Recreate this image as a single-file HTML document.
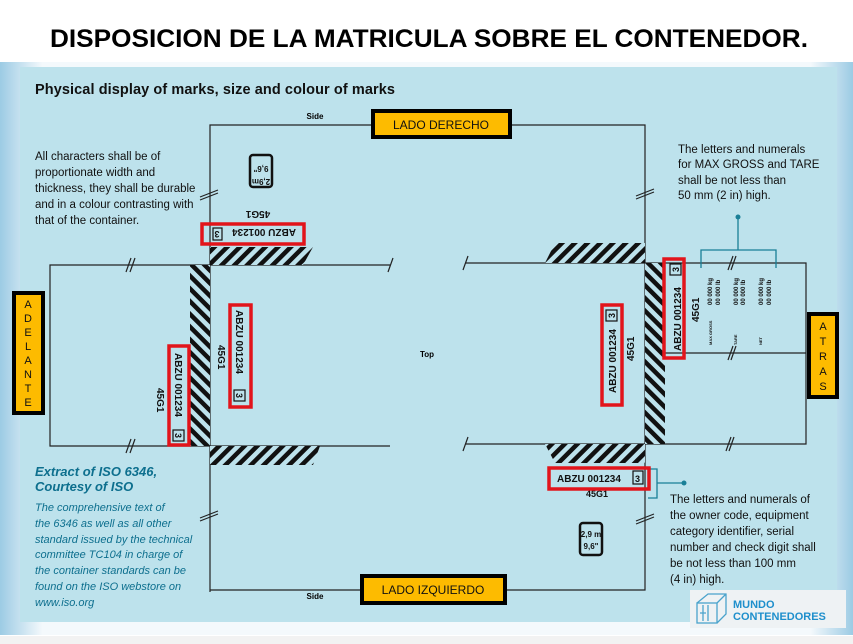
<!DOCTYPE html>
<html><head><meta charset="utf-8"><style>
html,body{margin:0;padding:0;width:853px;height:644px;overflow:hidden;background:#fff}
svg{display:block}
text{font-family:"Liberation Sans",sans-serif}
</style></head><body>
<svg width="853" height="644" viewBox="0 0 853 644" xmlns="http://www.w3.org/2000/svg">
<defs>
<pattern id="h" width="9" height="9" patternUnits="userSpaceOnUse" patternTransform="rotate(45)">
<rect width="9" height="9" fill="#bde2ec"/><rect width="4.5" height="9" fill="#111"/></pattern>
<pattern id="h2" width="9" height="9" patternUnits="userSpaceOnUse" patternTransform="rotate(-45)">
<rect width="9" height="9" fill="#bde2ec"/><rect width="4.5" height="9" fill="#111"/></pattern>
<linearGradient id="bg" x1="0" y1="0" x2="1" y2="0">
<stop offset="0" stop-color="#9ccbe4"/><stop offset="0.05" stop-color="#f4f9fc"/><stop offset="0.95" stop-color="#f4f9fc"/><stop offset="1" stop-color="#9ccbe4"/></linearGradient>
</defs>
<rect x="0" y="60" width="853" height="575" fill="url(#bg)"/>
<rect x="0" y="0" width="853" height="62" fill="#fff"/>
<rect x="0" y="636" width="853" height="8" fill="#f2f2f2"/>
<text x="50" y="47" font-size="25" font-weight="bold" textLength="758" lengthAdjust="spacingAndGlyphs">DISPOSICION DE LA MATRICULA SOBRE EL CONTENEDOR.</text>
<rect x="20" y="67" width="817" height="555" fill="#bde2ec"/>
<text x="35" y="94" font-size="14.5" font-weight="bold" fill="#111" textLength="360">Physical display of marks, size and colour of marks</text>

<g stroke="#222" stroke-width="1.2" fill="none">
<polyline points="210,592 210,125 645,125 645,590 210,590"/>
<polyline points="390,265 50,265 50,446 390,446"/>
<polyline points="465,263 806,263 806,444 465,444"/>
<line x1="645" y1="353" x2="806" y2="353"/>
<path d="M126,272 L131,258 M130,272 L135,258 M126,453 L131,439 M130,453 L135,439 M388,272 L393,258 M463,270 L468,256 M463,451 L468,437 M200,197 L218,190 M200,200 L218,193 M200,518 L218,511 M200,521 L218,514 M636,196 L654,189 M636,199 L654,192 M636,521 L654,514 M636,524 L654,517 M728,270 L733,256 M731,270 L736,256 M728,360 L733,346 M731,360 L736,346 M726,451 L731,437 M729,451 L734,437"/>
</g>
<polygon points="210,265 210,247 313,247 303,265" fill="url(#h)"/>
<rect x="190" y="265" width="20" height="181" fill="url(#h2)"/>
<polygon points="210,446 320,446 313,465 210,465" fill="url(#h)"/>
<polygon points="555,243 645,243 645,263 545,263" fill="url(#h)"/>
<rect x="645" y="263" width="20" height="181" fill="url(#h2)"/>
<polygon points="545,444 645,444 645,463 555,463" fill="url(#h)"/>

<text x="315" y="119" font-size="8" font-weight="bold" text-anchor="middle">Side</text>
<text x="315" y="599" font-size="8" font-weight="bold" text-anchor="middle">Side</text>
<text x="427" y="357" font-size="8" font-weight="bold" text-anchor="middle">Top</text>

<g font-size="11.5" fill="#111">
<text x="35" y="160">All characters shall be of</text>
<text x="35" y="176">proportionate width and</text>
<text x="35" y="192">thickness, they shall be durable</text>
<text x="35" y="208">and in a colour contrasting with</text>
<text x="35" y="224">that of the container.</text>
<text x="678" y="153">The letters and numerals</text>
<text x="678" y="168">for MAX GROSS and TARE</text>
<text x="678" y="184">shall be not less than</text>
<text x="678" y="199">50 mm (2 in) high.</text>
<text x="670" y="503">The letters and numerals of</text>
<text x="670" y="519">the owner code, equipment</text>
<text x="670" y="535">category identifier, serial</text>
<text x="670" y="551">number and check digit shall</text>
<text x="670" y="567">be not less than 100 mm</text>
<text x="670" y="583">(4 in) high.</text>
</g>
<g fill="#0d6f8e" font-style="italic" font-weight="bold">
<text x="35" y="476" font-size="13">Extract of ISO 6346,</text>
<text x="35" y="491" font-size="13">Courtesy of ISO</text>
<g font-size="11" font-weight="normal">
<text x="35" y="511">The comprehensive text of</text>
<text x="35" y="527">the 6346 as well as all other</text>
<text x="35" y="543">standard issued by the technical</text>
<text x="35" y="558">committee TC104 in charge of</text>
<text x="35" y="574">the container standards can be</text>
<text x="35" y="590">found on the ISO webstore on</text>
<text x="35" y="606">www.iso.org</text>
</g></g>

<g stroke="#1a7f97" stroke-width="1.3" fill="none">
<polyline points="701,268 701,250 776,250 776,268"/><line x1="738" y1="250" x2="738" y2="218"/>
<polyline points="648,469 657,469 657,498 648,498"/><line x1="657" y1="483" x2="683" y2="483"/>
</g>
<circle cx="738" cy="217" r="2.5" fill="#1a7f97"/><circle cx="684" cy="483" r="2.5" fill="#1a7f97"/>

<g font-weight="bold" fill="#111">
<text transform="translate(264,229) rotate(180)" font-size="10" text-anchor="middle">ABZU  001234</text>
<rect x="213" y="228" width="9" height="12" fill="none" stroke="#111" stroke-width="1.2"/>
<text transform="translate(217,231) rotate(180)" font-size="9" text-anchor="middle">3</text>
<text transform="translate(258,211) rotate(180)" font-size="10" text-anchor="middle">45G1</text>

<text transform="translate(236,310) rotate(90)" font-size="10">ABZU  001234</text>
<rect x="234" y="390" width="11" height="11" fill="none" stroke="#111" stroke-width="1.2"/>
<text transform="translate(236,393) rotate(90)" font-size="9">3</text>
<text transform="translate(218,345) rotate(90)" font-size="10">45G1</text>

<text transform="translate(175,353) rotate(90)" font-size="10">ABZU  001234</text>
<rect x="173" y="430" width="11" height="11" fill="none" stroke="#111" stroke-width="1.2"/>
<text transform="translate(175,433) rotate(90)" font-size="9">3</text>
<text transform="translate(157,388) rotate(90)" font-size="10">45G1</text>

<text transform="translate(616,393) rotate(-90)" font-size="10">ABZU  001234</text>
<rect x="606" y="310" width="11" height="11" fill="none" stroke="#111" stroke-width="1.2"/>
<text transform="translate(615,318) rotate(-90)" font-size="9">3</text>
<text transform="translate(634,361) rotate(-90)" font-size="10">45G1</text>

<text transform="translate(681,351) rotate(-90)" font-size="10">ABZU  001234</text>
<rect x="670" y="264" width="11" height="11" fill="none" stroke="#111" stroke-width="1.2"/>
<text transform="translate(679,272) rotate(-90)" font-size="9">3</text>
<text transform="translate(699,322) rotate(-90)" font-size="10">45G1</text>

<text x="557" y="482" font-size="10">ABZU  001234</text>
<rect x="633" y="471" width="10" height="13" fill="none" stroke="#111" stroke-width="1.2"/>
<text x="635" y="482" font-size="9">3</text>
<text x="586" y="497" font-size="9">45G1</text>

<g font-size="6">
<text transform="translate(712,305) rotate(-90)">00 000 kg</text>
<text transform="translate(720,305) rotate(-90)">00 000 lb</text>
<text transform="translate(738,305) rotate(-90)">00 000 kg</text>
<text transform="translate(745,305) rotate(-90)">00 000 lb</text>
<text transform="translate(763,305) rotate(-90)">00 000 kg</text>
<text transform="translate(771,305) rotate(-90)">00 000 lb</text>
<text transform="translate(712,345) rotate(-90)" font-size="4">MAX GROSS</text>
<text transform="translate(737,345) rotate(-90)" font-size="4">TARE</text>
<text transform="translate(762,345) rotate(-90)" font-size="4">NET</text>
</g>
<rect x="250" y="155" width="22" height="32" rx="3" fill="none" stroke="#111" stroke-width="2.5"/>
<text transform="translate(261,166) rotate(180)" font-size="8" text-anchor="middle">9,6"</text>
<text transform="translate(261,176) rotate(180)" font-size="8" text-anchor="middle" y="-3">2,9m</text>
<rect x="580" y="523" width="22" height="32" rx="3" fill="none" stroke="#111" stroke-width="2.5"/>
<text x="591" y="537" font-size="8" text-anchor="middle">2,9 m</text>
<text x="591" y="549" font-size="8" text-anchor="middle">9,6"</text>
</g>

<g fill="none" stroke="#e2141b" stroke-width="3.5">
<rect x="202" y="224" width="102" height="20"/>
<rect x="230" y="305" width="21" height="102"/>
<rect x="169" y="346" width="20" height="99"/>
<rect x="602" y="305" width="20" height="100"/>
<rect x="664" y="259" width="20" height="99"/>
<rect x="549" y="468" width="100" height="21"/>
</g>

<g stroke="#000" stroke-width="4" fill="#fdbb00">
<rect x="373" y="111" width="137" height="26"/>
<rect x="362" y="576" width="143" height="27"/>
<rect x="14" y="293" width="29" height="120"/>
<rect x="809" y="314" width="28" height="83"/>
</g>
<g font-size="12" text-anchor="middle" fill="#111">
<text x="441" y="129">LADO DERECHO</text>
<text x="433" y="594">LADO IZQUIERDO</text>
<g font-size="11"><text x="28" y="308">A</text><text x="28" y="322">D</text><text x="28" y="336">E</text><text x="28" y="350">L</text><text x="28" y="364">A</text><text x="28" y="378">N</text><text x="28" y="392">T</text><text x="28" y="406">E</text>
<text x="823" y="330">A</text><text x="823" y="345">T</text><text x="823" y="360">R</text><text x="823" y="375">A</text><text x="823" y="390">S</text></g>
</g>

<rect x="690" y="590" width="156" height="38" fill="#eef2f4"/>
<g stroke="#4aa3cc" stroke-width="1.3" fill="none">
<rect x="697" y="603" width="20" height="20"/><path d="M697,603 L708,594 L726,594 L726,614 L717,623 M717,603 L726,594"/>
<path d="M703,605 V621 M708,605 V621 M700,613 H706"/>
</g>
<text x="733" y="608" font-size="11" font-weight="bold" fill="#1e8fcc">MUNDO</text>
<text x="733" y="620" font-size="11" font-weight="bold" fill="#1e8fcc">CONTENEDORES</text>
</svg>
</body></html>
